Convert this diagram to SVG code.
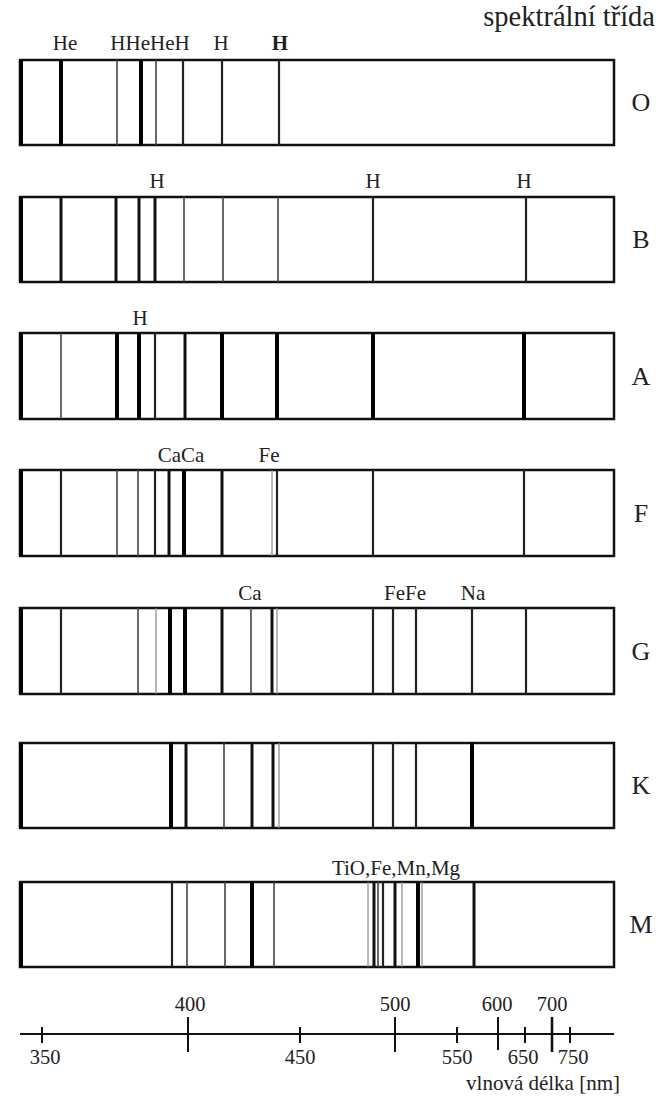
<svg xmlns="http://www.w3.org/2000/svg" width="670" height="1100" viewBox="0 0 670 1100">
<style>
text{font-family:"Liberation Serif","Times New Roman",serif;fill:#222}
.lbl{font-size:21px;text-anchor:middle}
.cls{font-size:26px;text-anchor:middle}
.tick{font-size:20.5px;text-anchor:middle}
.frame{fill:#fff;stroke:#111;stroke-width:2.5}
.edge{stroke:#000;stroke-width:4}
.t4{stroke:#000;stroke-width:4}
.t3{stroke:#111;stroke-width:3}
.t2{stroke:#222;stroke-width:2.2}
.t1{stroke:#444;stroke-width:1.6}
.t0{stroke:#888;stroke-width:1.2}
.axis{stroke:#111;stroke-width:2;fill:none}
</style>
<rect width="670" height="1100" fill="#fff"/>
<text x="655" y="26" style="font-size:28.5px;text-anchor:end">spektrální třída</text>

<g id="spectrum-O">
<rect class="frame" x="20" y="60" width="594" height="85"/>
<line class="edge" x1="21" y1="60" x2="21" y2="145"/>
<g transform="translate(0,60)">
<line class="t4" x1="61" y1="0" x2="61" y2="85"/>
<line class="t1" x1="117" y1="0" x2="117" y2="85"/>
<line class="t4" x1="141" y1="0" x2="141" y2="85"/>
<line class="t1" x1="156" y1="0" x2="156" y2="85"/>
<line class="t2" x1="183" y1="0" x2="183" y2="85"/>
<line class="t2" x1="222" y1="0" x2="222" y2="85"/>
<line class="t2" x1="279" y1="0" x2="279" y2="85"/>
</g>
<text class="lbl" x="65" y="50">He</text>
<text class="lbl" x="150" y="50">HHeHeH</text>
<text class="lbl" x="221" y="50">H</text>
<text class="lbl" x="280" y="50" style="font-weight:bold">H</text>
<text class="cls" x="641" y="111">O</text>
</g>

<g id="spectrum-B">
<rect class="frame" x="20" y="197" width="594" height="85"/>
<line class="edge" x1="21" y1="197" x2="21" y2="282"/>
<g transform="translate(0,197)">
<line class="t3" x1="61" y1="0" x2="61" y2="85"/>
<line class="t3" x1="116" y1="0" x2="116" y2="85"/>
<line class="t3" x1="139" y1="0" x2="139" y2="85"/>
<line class="t3" x1="155" y1="0" x2="155" y2="85"/>
<line class="t1" x1="184" y1="0" x2="184" y2="85"/>
<line class="t1" x1="223" y1="0" x2="223" y2="85"/>
<line class="t1" x1="278" y1="0" x2="278" y2="85"/>
<line class="t2" x1="373" y1="0" x2="373" y2="85"/>
<line class="t2" x1="526" y1="0" x2="526" y2="85"/>
</g>
<text class="lbl" x="157" y="188">H</text>
<text class="lbl" x="373" y="188">H</text>
<text class="lbl" x="524" y="188">H</text>
<text class="cls" x="641" y="248">B</text>
</g>

<g id="spectrum-A">
<rect class="frame" x="20" y="333" width="594" height="86"/>
<line class="edge" x1="21" y1="333" x2="21" y2="419"/>
<g transform="translate(0,333)">
<line class="t1" x1="61" y1="0" x2="61" y2="86"/>
<line class="t4" x1="117" y1="0" x2="117" y2="86"/>
<line class="t4" x1="139" y1="0" x2="139" y2="86"/>
<line class="t2" x1="155" y1="0" x2="155" y2="86"/>
<line class="t3" x1="185" y1="0" x2="185" y2="86"/>
<line class="t4" x1="222" y1="0" x2="222" y2="86"/>
<line class="t4" x1="277" y1="0" x2="277" y2="86"/>
<line class="t4" x1="373" y1="0" x2="373" y2="86"/>
<line class="t4" x1="524" y1="0" x2="524" y2="86"/>
</g>
<text class="lbl" x="140" y="325">H</text>
<text class="cls" x="641" y="385">A</text>
</g>

<g id="spectrum-F">
<rect class="frame" x="20" y="470" width="594" height="86"/>
<line class="edge" x1="21" y1="470" x2="21" y2="556"/>
<g transform="translate(0,470)">
<line class="t2" x1="61" y1="0" x2="61" y2="86"/>
<line class="t1" x1="117" y1="0" x2="117" y2="86"/>
<line class="t1" x1="138" y1="0" x2="138" y2="86"/>
<line class="t2" x1="155" y1="0" x2="155" y2="86"/>
<line class="t3" x1="169" y1="0" x2="169" y2="86"/>
<line class="t4" x1="184" y1="0" x2="184" y2="86"/>
<line class="t3" x1="222" y1="0" x2="222" y2="86"/>
<line class="t0" x1="272" y1="0" x2="272" y2="86"/>
<line class="t2" x1="277" y1="0" x2="277" y2="86"/>
<line class="t2" x1="373" y1="0" x2="373" y2="86"/>
<line class="t2" x1="524" y1="0" x2="524" y2="86"/>
</g>
<text class="lbl" x="181" y="462">CaCa</text>
<text class="lbl" x="269" y="462">Fe</text>
<text class="cls" x="641" y="522">F</text>
</g>

<g id="spectrum-G">
<rect class="frame" x="20" y="608" width="594" height="86"/>
<line class="edge" x1="21" y1="608" x2="21" y2="694"/>
<g transform="translate(0,608)">
<line class="t2" x1="61" y1="0" x2="61" y2="86"/>
<line class="t1" x1="138" y1="0" x2="138" y2="86"/>
<line class="t0" x1="156" y1="0" x2="156" y2="86"/>
<line class="t4" x1="170" y1="0" x2="170" y2="86"/>
<line class="t4" x1="185" y1="0" x2="185" y2="86"/>
<line class="t3" x1="222" y1="0" x2="222" y2="86"/>
<line class="t1" x1="251" y1="0" x2="251" y2="86"/>
<line class="t3" x1="272" y1="0" x2="272" y2="86"/>
<line class="t0" x1="277" y1="0" x2="277" y2="86"/>
<line class="t2" x1="373" y1="0" x2="373" y2="86"/>
<line class="t2" x1="393" y1="0" x2="393" y2="86"/>
<line class="t2" x1="416" y1="0" x2="416" y2="86"/>
<line class="t2" x1="472" y1="0" x2="472" y2="86"/>
<line class="t2" x1="526" y1="0" x2="526" y2="86"/>
</g>
<text class="lbl" x="250" y="600">Ca</text>
<text class="lbl" x="405" y="600">FeFe</text>
<text class="lbl" x="473" y="600">Na</text>
<text class="cls" x="641" y="660">G</text>
</g>

<g id="spectrum-K">
<rect class="frame" x="20" y="743" width="594" height="85"/>
<line class="edge" x1="21" y1="743" x2="21" y2="828"/>
<g transform="translate(0,743)">
<line class="t4" x1="171" y1="0" x2="171" y2="85"/>
<line class="t3" x1="186" y1="0" x2="186" y2="85"/>
<line class="t1" x1="224" y1="0" x2="224" y2="85"/>
<line class="t3" x1="252" y1="0" x2="252" y2="85"/>
<line class="t3" x1="273" y1="0" x2="273" y2="85"/>
<line class="t0" x1="279" y1="0" x2="279" y2="85"/>
<line class="t2" x1="373" y1="0" x2="373" y2="85"/>
<line class="t2" x1="393" y1="0" x2="393" y2="85"/>
<line class="t2" x1="416" y1="0" x2="416" y2="85"/>
<line class="t4" x1="472" y1="0" x2="472" y2="85"/>
</g>
<text class="cls" x="641" y="794">K</text>
</g>

<g id="spectrum-M">
<rect class="frame" x="20" y="882" width="594" height="85"/>
<line class="edge" x1="21" y1="882" x2="21" y2="967"/>
<g transform="translate(0,882)">
<line class="t2" x1="172" y1="0" x2="172" y2="85"/>
<line class="t1" x1="187" y1="0" x2="187" y2="85"/>
<line class="t1" x1="225" y1="0" x2="225" y2="85"/>
<line class="t4" x1="252" y1="0" x2="252" y2="85"/>
<line class="t1" x1="274" y1="0" x2="274" y2="85"/>
<line class="t0" x1="368" y1="0" x2="368" y2="85"/>
<line class="t3" x1="374" y1="0" x2="374" y2="85"/>
<line class="t1" x1="378" y1="0" x2="378" y2="85"/>
<line class="t2" x1="383" y1="0" x2="383" y2="85"/>
<line class="t3" x1="395" y1="0" x2="395" y2="85"/>
<line class="t0" x1="402" y1="0" x2="402" y2="85"/>
<line class="t4" x1="418" y1="0" x2="418" y2="85"/>
<line class="t0" x1="422" y1="0" x2="422" y2="85"/>
<line class="t3" x1="474" y1="0" x2="474" y2="85"/>
</g>
<text class="lbl" x="396" y="875">TiO,Fe,Mn,Mg</text>
<text class="cls" x="641" y="933">M</text>
</g>

<g id="axis">
<line class="axis" x1="20" y1="1034" x2="614" y2="1034"/>
<line class="axis" x1="42" y1="1027" x2="42" y2="1043"/>
<line class="axis" x1="188" y1="1017" x2="188" y2="1052"/>
<line class="axis" x1="300" y1="1027" x2="300" y2="1043"/>
<line class="axis" x1="395" y1="1017" x2="395" y2="1052"/>
<line class="axis" x1="457" y1="1027" x2="457" y2="1043"/>
<line class="axis" x1="498" y1="1017" x2="498" y2="1050"/>
<line class="axis" x1="525" y1="1027" x2="525" y2="1043"/>
<line class="axis" x1="552" y1="1017" x2="552" y2="1052" style="stroke-width:2.6"/>
<line class="axis" x1="570" y1="1027" x2="570" y2="1043"/>
<text class="tick" x="190" y="1011">400</text>
<text class="tick" x="395" y="1011">500</text>
<text class="tick" x="497" y="1011">600</text>
<text class="tick" x="552" y="1011">700</text>
<text class="tick" x="45" y="1064">350</text>
<text class="tick" x="300" y="1064">450</text>
<text class="tick" x="457" y="1064">550</text>
<text class="tick" x="523" y="1064">650</text>
<text class="tick" x="573" y="1064">750</text>
<text x="620" y="1090" style="font-size:21px;text-anchor:end">vlnová délka [nm]</text>
</g>
</svg>
